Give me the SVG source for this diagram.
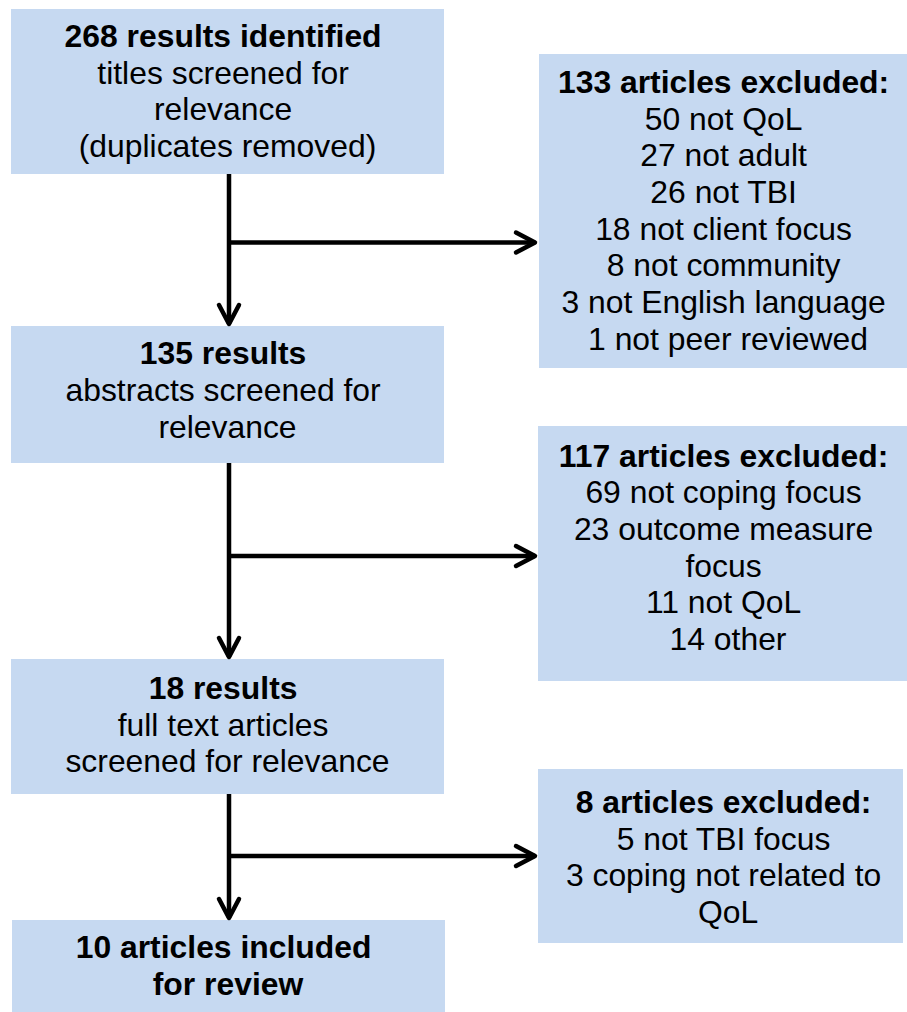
<svg xmlns="http://www.w3.org/2000/svg" width="907" height="1012" viewBox="0 0 907 1012">
  <style>
    .box { fill: #C6D9F1; stroke: none; }
    .t { font-family: "Liberation Sans", Arial, sans-serif; font-size: 30.5px; fill: #000; text-anchor: middle; }
    .b { font-weight: bold; }
    .ln { fill: none; stroke: #000; stroke-width: 4.5; }
  </style>
  <defs>
    <marker id="arr" viewBox="-26 -14 30 28" refX="0" refY="0" markerWidth="30" markerHeight="28" markerUnits="userSpaceOnUse" orient="auto">
      <path d="M-19,-10 L0,0 L-19,10" fill="none" stroke="#000" stroke-width="4.5" stroke-linecap="round" stroke-linejoin="round"/>
    </marker>
  </defs>
  <rect width="907" height="1012" fill="#fff"/>

  <g id="node-268">
    <rect class="box" x="11" y="9" width="433" height="165"/>
    <text class="t" transform="matrix(1.045 0 0 1 227.5 0)">
      <tspan class="b" x="0" y="47">268 results identified</tspan>
      <tspan x="0" y="83.7">titles screened for</tspan>
      <tspan x="0" y="120.4">relevance</tspan>
      <tspan x="0" y="157.1">(duplicates removed)</tspan>
    </text>
  </g>

  <g id="node-133">
    <rect class="box" x="539" y="54" width="378" height="314"/>
    <text class="t" transform="matrix(1.045 0 0 1 728 0)">
      <tspan class="b" x="0" y="93">133 articles excluded:</tspan>
      <tspan x="0" y="129.7">50 not QoL</tspan>
      <tspan x="0" y="166.4">27 not adult</tspan>
      <tspan x="0" y="203.1">26 not TBI</tspan>
      <tspan x="0" y="239.8">18 not client focus</tspan>
      <tspan x="0" y="276.5">8 not community</tspan>
      <tspan x="0" y="313.2">3 not English language</tspan>
      <tspan x="0" y="349.9">1 not peer reviewed</tspan>
    </text>
  </g>

  <g id="node-135">
    <rect class="box" x="11" y="326" width="433" height="137"/>
    <text class="t" transform="matrix(1.045 0 0 1 227.5 0)">
      <tspan class="b" x="0" y="364.5">135 results</tspan>
      <tspan x="0" y="401.2">abstracts screened for</tspan>
      <tspan x="0" y="437.9">relevance</tspan>
    </text>
  </g>

  <g id="node-117">
    <rect class="box" x="538" y="426" width="379" height="255"/>
    <text class="t" transform="matrix(1.045 0 0 1 728 0)">
      <tspan class="b" x="0" y="466.6">117 articles excluded:</tspan>
      <tspan x="0" y="503.3">69 not coping focus</tspan>
      <tspan x="0" y="540">23 outcome measure</tspan>
      <tspan x="0" y="576.7">focus</tspan>
      <tspan x="0" y="613.4">11 not QoL</tspan>
      <tspan x="0" y="650.1">14 other</tspan>
    </text>
  </g>

  <g id="node-18">
    <rect class="box" x="11" y="659" width="433" height="135"/>
    <text class="t" transform="matrix(1.045 0 0 1 227.5 0)">
      <tspan class="b" x="0" y="699">18 results</tspan>
      <tspan x="0" y="735.7">full text articles</tspan>
      <tspan x="0" y="772.4">screened for relevance</tspan>
    </text>
  </g>

  <g id="node-8">
    <rect class="box" x="538" y="769" width="365" height="174"/>
    <text class="t" transform="matrix(1.045 0 0 1 728 0)">
      <tspan class="b" x="0" y="813">8 articles excluded:</tspan>
      <tspan x="0" y="849.7">5 not TBI focus</tspan>
      <tspan x="0" y="886.4">3 coping not related to</tspan>
      <tspan x="0" y="923.1">QoL</tspan>
    </text>
  </g>

  <g id="node-10">
    <rect class="box" x="12" y="920" width="433" height="92"/>
    <text class="t b" transform="matrix(1.045 0 0 1 228 0)">
      <tspan x="0" y="958">10 articles included</tspan>
      <tspan x="0" y="994.7">for review</tspan>
    </text>
  </g>

  <g id="connectors">
    <line class="ln" x1="229" y1="174" x2="229" y2="324" marker-end="url(#arr)"/>
    <line class="ln" x1="229" y1="242.5" x2="535" y2="242.5" marker-end="url(#arr)"/>
    <line class="ln" x1="229" y1="463" x2="229" y2="657" marker-end="url(#arr)"/>
    <line class="ln" x1="229" y1="556" x2="535" y2="556" marker-end="url(#arr)"/>
    <line class="ln" x1="229" y1="794" x2="229" y2="918" marker-end="url(#arr)"/>
    <line class="ln" x1="229" y1="856" x2="535" y2="856" marker-end="url(#arr)"/>
  </g>
</svg>
